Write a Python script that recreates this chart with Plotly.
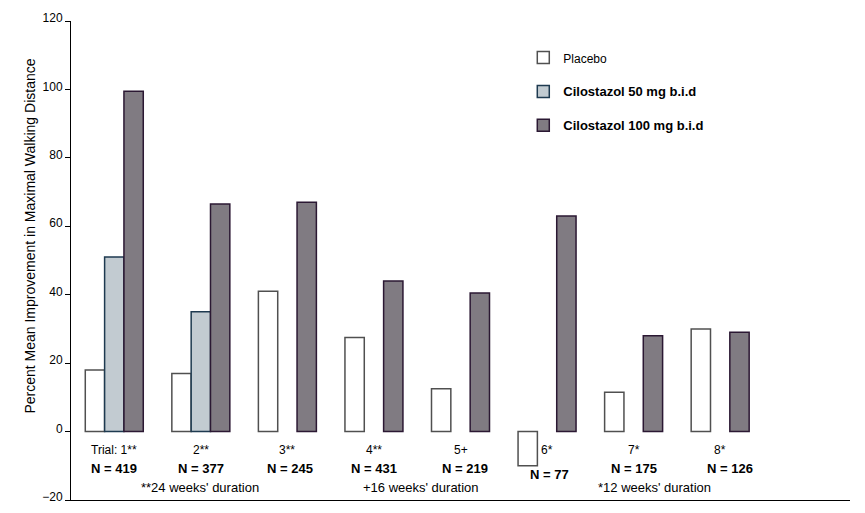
import plotly.graph_objects as go

# ---- data ----
trial_labels = ["Trial: 1**", "2**", "3**", "4**", "5+", "6*", "7*", "8*"]
n_labels = ["N = 419", "N = 377", "N = 245", "N = 431", "N = 219", "N = 77", "N = 175", "N = 126"]
duration_notes = ["**24 weeks' duration", "+16 weeks' duration", "*12 weeks' duration"]
placebo = [18, 17, 41, 27.5, 12.5, -10, 11.5, 30]
cilo50 = [51, 35, None, None, None, None, None, None]
cilo100 = [99.5, 66.5, 67, 44, 40.5, 63, 28, 29]
series_names = ["Placebo", "Cilostazol 50 mg b.i.d", "Cilostazol 100 mg b.i.d"]
y_title = "Percent Mean Improvement in Maximal Walking Distance"

# ---- styling / positions ----
x_idx = list(range(len(placebo)))
n_label_dx = [0, 0, 0.03, 0, 0.05, 0.03, 0, 0.11]
n_label_y = [-10.8, -10.8, -10.8, -10.8, -10.8, -12.6, -10.8, -10.8]
duration_x = [0.99, 3.54, 6.24]
font_family = "Liberation Sans, Arial, sans-serif"

fig = go.Figure()
fig.add_trace(go.Bar(
    x=x_idx, y=placebo, name='<span style="font-size:12px">' + series_names[0] + '</span>',
    marker=dict(color="#ffffff", line=dict(color="#505050", width=1.5)),
    legendgroup="a"))
fig.add_trace(go.Bar(
    x=x_idx, y=cilo50, name="<b>" + series_names[1] + "</b>",
    marker=dict(color="#c2cbd1", line=dict(color="#1e3a50", width=1.5)),
    legendgroup="b"))
fig.add_trace(go.Bar(
    x=x_idx, y=cilo100, name="<b>" + series_names[2] + "</b>",
    marker=dict(color="#807b82", line=dict(color="#2b1833", width=1.5)),
    legendgroup="c"))

annotations = []
for i, t in enumerate(trial_labels):
    annotations.append(dict(x=x_idx[i], y=-5.3, xref="x", yref="y", text=t,
                            showarrow=False, font=dict(size=12, color="black")))
for i, t in enumerate(n_labels):
    annotations.append(dict(x=x_idx[i] + n_label_dx[i], y=n_label_y[i], xref="x", yref="y",
                            text="<b>" + t + "</b>", showarrow=False,
                            font=dict(size=13, color="black")))
for i, t in enumerate(duration_notes):
    annotations.append(dict(x=duration_x[i], y=-16.4, xref="x", yref="y", text=t,
                            showarrow=False, font=dict(size=13, color="black")))
annotations.append(dict(x=-0.0526, y=0.55, xref="paper", yref="paper", text=y_title,
                        textangle=-90, showarrow=False, xanchor="center", yanchor="middle",
                        font=dict(size=14, color="black")))

# page body has an 8px margin; the figure is sized so page == 865x513 exactly
fig.update_layout(
    width=849, height=497,
    margin=dict(l=63, r=7, t=13, b=5, autoexpand=False),
    paper_bgcolor="white", plot_bgcolor="white",
    font=dict(family=font_family, color="black", size=12),
    barmode="group", bargap=0.33, bargroupgap=0,
    showlegend=True,
    legend=dict(x=0.5806, y=0.955, xanchor="left", yanchor="top",
                font=dict(size=13, color="black"), tracegroupgap=14,
                bgcolor="rgba(0,0,0,0)"),
    xaxis=dict(range=[-0.5, 8.5], showline=True, linecolor="black", linewidth=1,
               showticklabels=False, ticks="", showgrid=False, zeroline=False,
               automargin=False, fixedrange=True),
    xaxis2=dict(range=[-0.5, 8.5], overlaying="x", anchor="free", position=20 / 140,
                side="bottom", showline=True, linecolor="black", linewidth=1,
                ticks="outside", ticklen=5, tickcolor="black",
                tickvals=[k + 0.5 for k in range(8)], showticklabels=False,
                showgrid=False, zeroline=False, automargin=False),
    yaxis=dict(range=[-20, 120], dtick=20, tick0=0, ticks="outside", ticklen=5,
               tickcolor="black", showline=True, linecolor="black", linewidth=1,
               showgrid=False, zeroline=False, ticklabeloverflow="allow",
               ticklabelshift=-3,
               automargin=False, tickfont=dict(size=12, color="black")),
    annotations=annotations,
)

fig.write_html("out.html")
